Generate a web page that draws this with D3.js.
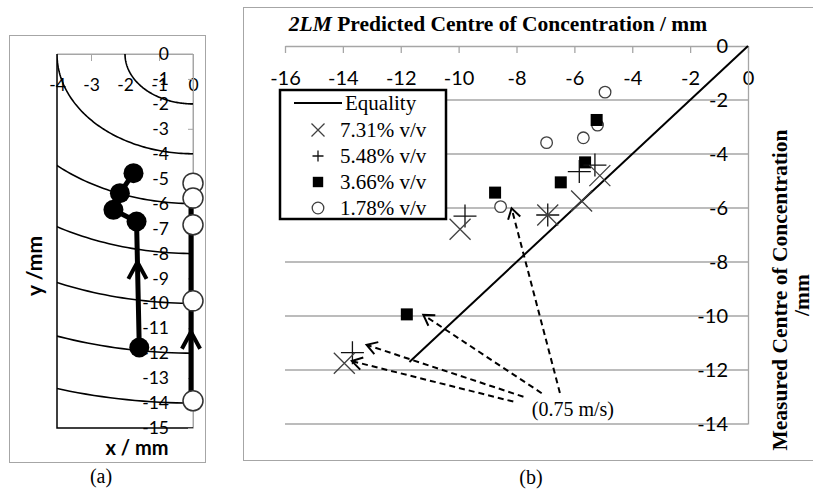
<!DOCTYPE html>
<html>
<head>
<meta charset="utf-8">
<script src="https://cdn.jsdelivr.net/npm/d3@7"></script>
<style>
  body { margin: 0; background: #fff; }
  .sans { font-family: Lato, "Open Sans", sans-serif; }
  .serif { font-family: "Liberation Serif", "Times New Roman", serif; }
</style>
</head>
<body>
<svg id="fig" width="813" height="490"></svg>
<script>
// ---------- panel (a) data ----------
const aXTicks = [-4, -3, -2, -1, 0];
const aYTicks = [0, -1, -2, -3, -4, -5, -6, -7, -8, -9, -10, -11, -12, -13, -14, -15];
const contourRadii = [2, 4, 6, 8, 10, 12, 14];
const blackX = [-1.75, -2.15, -2.34, -1.66, -1.58];
const blackY = [-4.78, -5.58, -6.25, -6.72, -11.77];
const whiteX = [0, 0, 0, 0, 0];
const whiteY = [-5.18, -5.78, -6.85, -9.9, -13.91];
const blackArrowY = -8.35;
const whiteArrowY = -11.15;

// ---------- panel (b) data ----------
const bXTicks = [-16, -14, -12, -10, -8, -6, -4, -2, 0];
const bYTicks = [0, -2, -4, -6, -8, -10, -12, -14];
const seriesNames = ['7.31% v/v', '5.48% v/v', '3.66% v/v', '1.78% v/v'];
const seriesShapes = ['times', 'plus', 'square', 'circle'];
const c731X = [-5.12, -5.75, -6.92, -9.95, -13.95];
const c731Y = [-4.80, -5.74, -6.26, -6.79, -11.75];
const c548X = [-5.29, -5.83, -6.92, -9.78, -13.67];
const c548Y = [-4.41, -4.65, -6.26, -6.30, -11.36];
const c366X = [-5.23, -5.63, -6.47, -8.74, -11.79];
const c366Y = [-2.74, -4.31, -5.05, -5.43, -9.94];
const c178X = [-4.94, -5.20, -5.69, -6.96, -8.55];
const c178Y = [-1.71, -2.93, -3.40, -3.58, -5.95];
const equalityRange = [-11.7, 0];
const arrowFromX = [-6.50, -7.13, -7.76, -8.11];
const arrowFromY = [-12.85, -12.86, -12.99, -13.17];
const arrowToX = [-8.17, -11.22, -13.18, -13.69];
const arrowToY = [-6.01, -9.96, -11.07, -11.67];
const noteText = '(0.75 m/s)';
const notePos = [-6.05, -13.45];

const svg = d3.select('#fig');

// open arrow head (two arms) with tip at (x,y), pointing along angle
function chevron(g, x, y, ang, len, spread, width) {
  const a1 = ang + Math.PI - spread, a2 = ang + Math.PI + spread;
  g.append('path')
    .attr('d', `M${x + len * Math.cos(a1)},${y + len * Math.sin(a1)}L${x},${y}L${x + len * Math.cos(a2)},${y + len * Math.sin(a2)}`)
    .attr('fill', 'none').attr('stroke', '#000').attr('stroke-width', width)
    .attr('stroke-linejoin', 'miter');
}

function marker(g, shape, x, y, s) {
  if (shape === 'times') {
    g.append('path').attr('d', `M${x - s},${y - s}L${x + s},${y + s}M${x - s},${y + s}L${x + s},${y - s}`)
      .attr('stroke', '#404040').attr('stroke-width', 1.3).attr('fill', 'none');
  } else if (shape === 'plus') {
    g.append('path').attr('d', `M${x - s},${y}L${x + s},${y}M${x},${y - s}L${x},${y + s}`)
      .attr('stroke', '#111').attr('stroke-width', 1.3).attr('fill', 'none');
  } else if (shape === 'square') {
    g.append('rect').attr('x', x - s).attr('y', y - s).attr('width', 2 * s).attr('height', 2 * s)
      .attr('fill', '#000');
  } else {
    g.append('circle').attr('cx', x).attr('cy', y).attr('r', s)
      .attr('fill', '#fff').attr('stroke', '#404040').attr('stroke-width', 1.3);
  }
}

// ================= panel (a) =================
const ga = svg.append('g');
ga.append('rect').attr('x', 9.5).attr('y', 35.5).attr('width', 196).attr('height', 427)
  .attr('fill', '#fff').attr('stroke', '#a6a6a6');

const ax = d3.scaleLinear().domain([-4, 0]).range([57, 193]);
const ay = d3.scaleLinear().domain([0, -15]).range([54, 428]);

ga.append('clipPath').attr('id', 'clipA')
  .append('rect').attr('x', ax(-4)).attr('y', ay(0)).attr('width', ax(0) - ax(-4)).attr('height', ay(-15) - ay(0));

// plot area border
ga.append('path').attr('d', `M${ax(-4)},${ay(0)}H${ax(0)}V${ay(-15)}`)
  .attr('fill', 'none').attr('stroke', '#a6a6a6');
ga.append('path').attr('d', `M${ax(-4)},${ay(0)}V${ay(-15)}H${ax(0)}`)
  .attr('fill', 'none').attr('stroke', '#000').attr('stroke-width', 1.5);

// top axis (ticks hang inside, labels below)
const axTop = ga.append('g').attr('transform', `translate(0,${ay(0)})`)
  .call(d3.axisBottom(ax).tickValues(aXTicks).tickSize(7).tickSizeOuter(0).tickPadding(18));
// right axis (labels left of it)
const axRight = ga.append('g').attr('transform', `translate(${ax(0)},0)`)
  .call(d3.axisLeft(ay).tickValues(aYTicks).tickSize(5).tickSizeOuter(0).tickPadding(19));
[axTop, axRight].forEach(a => {
  a.select('.domain').attr('stroke', '#a6a6a6');
  a.selectAll('line').attr('stroke', '#a6a6a6');
  a.selectAll('text').attr('class', 'sans').attr('font-size', 17.5).attr('fill', '#000')
    .text(d => d === 0 ? '0' : '-' + Math.abs(d));
});

// contours: circles of constant radius round the origin
const arcLine = d3.line().x(d => ax(d[0])).y(d => ay(d[1]));
const angles = d3.range(0, 91).map(a => a * Math.PI / 180);
ga.append('g').attr('clip-path', 'url(#clipA)')
  .selectAll('path').data(contourRadii).join('path')
  .attr('d', r => arcLine(angles.map(t => [-r * Math.cos(t), -r * Math.sin(t)])))
  .attr('fill', 'none').attr('stroke', '#000').attr('stroke-width', 1.6);

// black track
const blackPts = blackX.map((x, i) => [x, blackY[i]]);
ga.append('path').attr('d', arcLine(blackPts))
  .attr('fill', 'none').attr('stroke', '#000').attr('stroke-width', 5);
{
  const t = (blackArrowY - blackY[3]) / (blackY[4] - blackY[3]);
  const x = blackX[3] + t * (blackX[4] - blackX[3]);
  chevron(ga, ax(x), ay(blackArrowY), -Math.PI / 2, 19, 0.5, 4);
}
// white track
const whitePts = whiteX.map((x, i) => [x, whiteY[i]]);
ga.append('path').attr('d', arcLine(whitePts.slice(1)))
  .attr('fill', 'none').attr('stroke', '#000').attr('stroke-width', 5)
  .attr('transform', 'translate(-2,0)');
chevron(ga, ax(0) - 2, ay(whiteArrowY), -Math.PI / 2, 19, 0.5, 4);

ga.selectAll('.bdot').data(blackPts).join('circle').attr('class', 'bdot')
  .attr('cx', d => ax(d[0])).attr('cy', d => ay(d[1])).attr('r', 10).attr('fill', '#000');
ga.selectAll('.wdot').data(whitePts).join('circle').attr('class', 'wdot')
  .attr('cx', d => ax(d[0])).attr('cy', d => ay(d[1])).attr('r', 10)
  .attr('fill', '#fff').attr('stroke', '#333').attr('stroke-width', 1.5);

ga.append('text').attr('class', 'sans').attr('font-size', 20).attr('font-weight', 'bold')
  .attr('x', 137).attr('y', 455).attr('text-anchor', 'middle').text('x / mm');
ga.append('text').attr('class', 'sans').attr('font-size', 21).attr('font-weight', 'bold')
  .attr('transform', 'translate(35,266) rotate(-90)').attr('dy', '0.35em')
  .attr('text-anchor', 'middle').text('y /mm');
ga.append('text').attr('class', 'serif').attr('font-size', 20)
  .attr('x', 101).attr('y', 483).attr('text-anchor', 'middle').text('(a)');

// ================= panel (b) =================
const gb = svg.append('g');
gb.append('rect').attr('x', 243.5).attr('y', 7.5).attr('width', 600).attr('height', 453)
  .attr('fill', '#fff').attr('stroke', '#a6a6a6');

const bx = d3.scaleLinear().domain([-16, 0]).range([285, 748]);
const by = d3.scaleLinear().domain([0, -14]).range([46, 424]);

// horizontal gridlines
gb.append('g').selectAll('line').data(bYTicks.filter(d => d !== 0)).join('line')
  .attr('x1', bx(-16)).attr('x2', bx(0)).attr('y1', d => by(d)).attr('y2', d => by(d))
  .attr('stroke', '#a6a6a6').attr('stroke-width', 1.3);

const bxAxis = gb.append('g').attr('transform', `translate(0,${by(0)})`)
  .call(d3.axisBottom(bx).tickValues(bXTicks).tickSize(7).tickSizeOuter(0).tickPadding(18));
const byAxis = gb.append('g').attr('transform', `translate(${bx(0)},0)`)
  .call(d3.axisLeft(by).tickValues(bYTicks).tickSize(0).tickPadding(20));
[bxAxis, byAxis].forEach(a => {
  a.select('.domain').attr('stroke', '#a6a6a6').attr('stroke-width', 1.3);
  a.selectAll('line').attr('stroke', '#a6a6a6').attr('stroke-width', 1.3);
  a.selectAll('text').attr('class', 'sans').attr('font-size', 20).attr('fill', '#000')
    .text(d => d === 0 ? '0' : '-' + Math.abs(d));
});

// equality line
gb.append('line').attr('x1', bx(equalityRange[0])).attr('y1', by(equalityRange[0]))
  .attr('x2', bx(equalityRange[1])).attr('y2', by(equalityRange[1]))
  .attr('stroke', '#000').attr('stroke-width', 2);

// series
const seriesX = [c731X, c548X, c366X, c178X];
const seriesY = [c731Y, c548Y, c366Y, c178Y];
const plotSize = { times: 10.5, plus: 11.5, square: 6, circle: 5.8 };
const legendSize = { times: 6.5, plus: 5.5, square: 5.2, circle: 5.8 };
// draw squares and circles under the crosses
[3, 2, 1, 0].forEach(s => {
  const g = gb.append('g');
  seriesX[s].forEach((x, i) => marker(g, seriesShapes[s], bx(x), by(seriesY[s][i]), plotSize[seriesShapes[s]]));
});

// dashed annotation arrows
arrowFromX.forEach((fx, i) => {
  const x1 = bx(fx), y1 = by(arrowFromY[i]);
  const x2 = bx(arrowToX[i]), y2 = by(arrowToY[i]);
  gb.append('line').attr('x1', x1).attr('y1', y1).attr('x2', x2).attr('y2', y2)
    .attr('stroke', '#000').attr('stroke-width', 2).attr('stroke-dasharray', '6,4');
  chevron(gb, x2, y2, Math.atan2(y2 - y1, x2 - x1), 12, 0.55, 2);
});
gb.append('text').attr('class', 'serif').attr('font-size', 20)
  .attr('x', bx(notePos[0])).attr('y', by(notePos[1])).attr('dy', '0.35em')
  .attr('text-anchor', 'middle').text(noteText);

// legend
const lg = gb.append('g');
lg.append('rect').attr('x', 280).attr('y', 90).attr('width', 166).attr('height', 129)
  .attr('fill', '#fff').attr('stroke', '#000').attr('stroke-width', 2.5);
lg.append('line').attr('x1', 294).attr('x2', 342).attr('y1', 103).attr('y2', 103)
  .attr('stroke', '#000').attr('stroke-width', 2);
lg.append('text').attr('class', 'serif').attr('font-size', 21)
  .attr('x', 345).attr('y', 103).attr('dy', '0.33em').text('Equality');
seriesNames.forEach((name, i) => {
  const yy = 130 + i * 26;
  marker(lg, seriesShapes[i], 318, yy, legendSize[seriesShapes[i]]);
  lg.append('text').attr('class', 'serif').attr('font-size', 21)
    .attr('x', 340).attr('y', yy).attr('dy', '0.33em').text(name);
});

// titles
const title = gb.append('text').attr('class', 'serif').attr('font-size', 21.5).attr('font-weight', 'bold')
  .attr('x', 498).attr('y', 31).attr('text-anchor', 'middle');
title.append('tspan').attr('font-style', 'italic').text('2LM');
title.append('tspan').text(' Predicted Centre of Concentration / mm');

gb.append('text').attr('class', 'serif').attr('font-size', 21.5).attr('font-weight', 'bold')
  .attr('transform', 'translate(779,290) rotate(-90)').attr('dy', '0.35em')
  .attr('text-anchor', 'middle').text('Measured Centre of Concentration');
gb.append('text').attr('class', 'serif').attr('font-size', 21.5).attr('font-weight', 'bold')
  .attr('transform', 'translate(801,295) rotate(-90)').attr('dy', '0.35em')
  .attr('text-anchor', 'middle').text('/mm');
gb.append('text').attr('class', 'serif').attr('font-size', 20)
  .attr('x', 531).attr('y', 484).attr('text-anchor', 'middle').text('(b)');
</script>
</body>
</html>
